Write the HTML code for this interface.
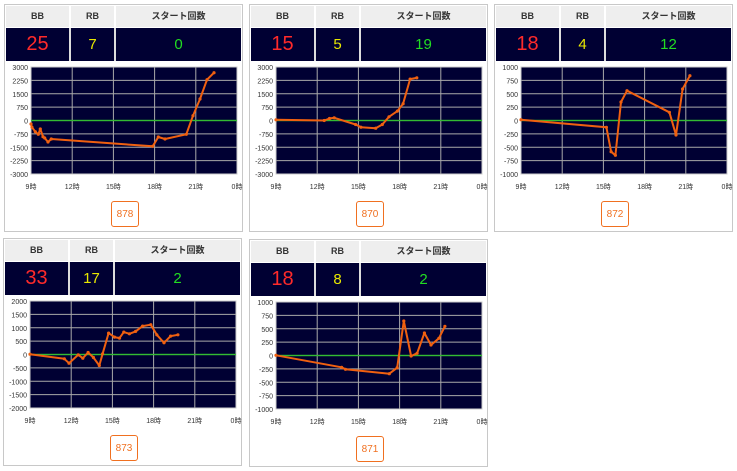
<!DOCTYPE html>
<html><head><meta charset="utf-8"><style>
body{margin:0;background:#fff;width:737px;height:471px;overflow:hidden;position:relative;font-family:"Liberation Sans","Noto Sans CJK JP",sans-serif}
.p{position:absolute;width:239px;height:228px;border:1px solid #c8c8c8;box-sizing:border-box;background:#fff}
.hd{position:absolute;top:1px;left:1px;right:1px;height:21px;background:#eee;display:flex}
.hd div,.dk div{box-sizing:border-box;text-align:center;border-right:2px solid #fff}
.hd div{font-size:9px;font-weight:bold;color:#333;line-height:21px}
.dk{position:absolute;top:22px;left:1px;right:1px;height:33px;background:#000033;display:flex;border-top:1px solid #fff}
.dk div{font-size:20px;line-height:33px;border-right:2px solid #ddd}
.c1{width:65px}.c2{width:45px}.c3{flex:1;border-right:none!important}
.btn{position:absolute;left:106px;top:196px;width:28px;height:26px;border:1px solid #f07020;border-radius:3px;color:#f07020;font-size:10px;line-height:26px;text-align:center;box-sizing:border-box}
svg{position:absolute;left:0;top:0}
</style></head><body>
<div id="root"></div>
<script>
var P=[
{x:4,y:4,bb:25,rb:7,st:0,id:878,lab:[3000,2250,1500,750,0,-750,-1500,-2250,-3000],r:[90,708,199,520],pts:[[90,370],[93,380],[103,393],[112,401],[118,385],[126,408],[131,412],[141,424],[151,415],[455,437],[472,409],[492,415],[556,401],[576,345],[597,295],[618,237],[639,216]]},
{x:249,y:4,bb:15,rb:5,st:19,id:870,lab:[3000,2250,1500,750,0,-750,-1500,-2250,-3000],r:[92,708,199,517],pts:[[92,356],[236,358],[252,352],[266,350],[330,370],[346,378],[390,381],[410,370],[430,347],[455,330],[472,308],[493,235],[513,231]]},
{x:494,y:4,bb:18,rb:4,st:12,id:872,lab:[1000,750,500,250,0,-250,-500,-750,-1000],r:[90,712,199,520],pts:[[90,357],[348,380],[362,453],[375,464],[392,304],[410,270],[538,335],[558,403],[578,265],[600,225]]},
{x:3,y:238,bb:33,rb:17,st:2,id:873,lab:[2000,1500,1000,500,0,-500,-1000,-1500,-2000],r:[84,708,197,517],pts:[[84,356],[188,370],[202,383],[230,358],[244,368],[260,351],[276,366],[294,390],[304,355],[322,293],[340,305],[355,308],[368,290],[385,295],[404,288],[425,272],[450,268],[468,298],[490,322],[510,302],[532,298]]},
{x:249,y:239,bb:18,rb:8,st:2,id:871,lab:[1000,750,500,250,0,-250,-500,-750,-1000],r:[90,712,201,522],pts:[[90,361],[288,397],[300,403],[432,416],[456,398],[476,258],[498,363],[516,355],[538,294],[558,330],[582,310],[600,274]]}];
var h='';
P.forEach(function(p){
var L=26,R=232,T=62,B=169,W=R-L,H=B-T;
var s='<svg width="239" height="228">';
s+='<rect x="'+L+'" y="'+T+'" width="'+W+'" height="'+H+'" fill="#000033" stroke="#ccc" stroke-width="1"/>';
for(var i=1;i<8;i++){var y=T+H*i/8;s+='<line x1="'+L+'" x2="'+R+'" y1="'+y+'" y2="'+y+'" stroke="'+(i==4?'#33aa33':'#aaa')+'" stroke-width="'+(i==4?1.2:1)+'"/>';}
for(var i=1;i<5;i++){var x=L+W*i/5;s+='<line y1="'+T+'" y2="'+B+'" x1="'+x+'" x2="'+x+'" stroke="#aaa"/>';}
s+='<line x1="'+L+'" x2="'+R+'" y1="'+(T+H/2)+'" y2="'+(T+H/2)+'" stroke="#33bb33" stroke-width="1.2"/>';
p.lab.forEach(function(v,i){s+='<text x="'+(L-3)+'" y="'+(T+H*i/8+3)+'" font-size="7" text-anchor="end" fill="#333">'+v+'</text>';});
['9時','12時','15時','18時','21時','0時'].forEach(function(t,i){s+='<text x="'+(L+W*i/5)+'" y="'+(B+15)+'" font-size="7" text-anchor="middle" fill="#333">'+t+'</text>';});
var r=p.r,pts=p.pts.map(function(q){return [L+(q[0]-r[0])/(r[1]-r[0])*W,T+(q[1]-r[2])/(r[3]-r[2])*H];});
s+='<polyline fill="none" stroke="#f06010" stroke-width="2" stroke-linejoin="round" points="'+pts.map(function(q){return q[0].toFixed(1)+','+q[1].toFixed(1)}).join(' ')+'"/>';
pts.forEach(function(q){s+='<circle cx="'+q[0].toFixed(1)+'" cy="'+q[1].toFixed(1)+'" r="1.6" fill="#f06010"/>';});
s+='</svg>';
h+='<div class="p" style="left:'+p.x+'px;top:'+p.y+'px"><div class="hd"><div class="c1">BB</div><div class="c2">RB</div><div class="c3">スタート回数</div></div><div class="dk"><div class="c1" style="color:#ff2a2a">'+p.bb+'</div><div class="c2" style="color:#e8e800;font-size:15px">'+p.rb+'</div><div class="c3" style="color:#22dd22;font-size:15px">'+p.st+'</div></div>'+s+'<div class="btn">'+p.id+'</div></div>';
});
document.getElementById('root').innerHTML=h;
</script>
</body></html>
